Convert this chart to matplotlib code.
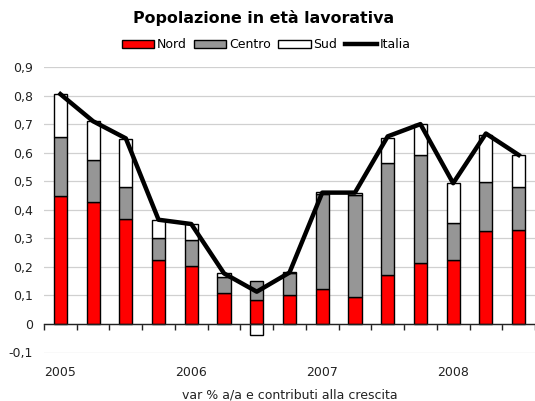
import matplotlib
matplotlib.use("Agg")
import matplotlib.pyplot as plt
import numpy as np

quarters = ["2005Q1", "2005Q2", "2005Q3", "2005Q4", "2006Q1", "2006Q2", "2006Q3", "2006Q4",
            "2007Q1", "2007Q2", "2007Q3", "2007Q4", "2008Q1", "2008Q2", "2008Q3"]
year_labels = ["2005", "2006", "2007", "2008"]
year_pos = [0, 4, 8, 12]
nord = [0.447, 0.426, 0.367, 0.223, 0.204, 0.107, 0.083, 0.100, 0.122, 0.095, 0.173, 0.214, 0.223, 0.327, 0.330]
centro = [0.209, 0.148, 0.112, 0.077, 0.091, 0.056, 0.068, 0.080, 0.334, 0.357, 0.392, 0.379, 0.132, 0.171, 0.151]
sud = [0.150, 0.136, 0.169, 0.065, 0.056, 0.015, -0.039, 0.003, 0.005, 0.006, 0.086, 0.107, 0.138, 0.165, 0.112]
italia = [0.805, 0.710, 0.650, 0.365, 0.350, 0.177, 0.113, 0.180, 0.460, 0.460, 0.657, 0.700, 0.493, 0.667, 0.592]

plt.rcParams['font.family'] = ['DejaVu Sans']

fig = plt.figure(figsize=(5.35, 4.01), dpi=100)
ax = fig.add_axes([44/535, 1-352.5/401, 491/535, (352.5-67)/401])

x = np.arange(len(quarters))
nord_a = np.array(nord)
centro_a = np.array(centro)
sud_a = np.array(sud)
pos_base = nord_a + centro_a
sud_bottom = np.where(sud_a >= 0, pos_base, 0.0)

w = 0.4
b1 = ax.bar(x, nord_a, w, color="#FF0000", edgecolor="black", linewidth=1, label="Nord", zorder=3)
b2 = ax.bar(x, centro_a, w, bottom=nord_a, color="#969696", edgecolor="black", linewidth=1, label="Centro", zorder=3)
b3 = ax.bar(x, sud_a, w, bottom=sud_bottom, color="white", edgecolor="black", linewidth=1, label="Sud", zorder=3)
l1, = ax.plot(x, italia, color="black", linewidth=3.2, solid_joinstyle="round", label="Italia", zorder=4)

ax.set_xlim(-0.5, len(quarters) - 0.5)
ax.set_ylim(-0.1, 0.9)
yt = np.round(np.arange(-0.1, 0.91, 0.1), 1)
ax.set_yticks(yt)
ax.set_yticklabels(["0" if abs(v) < 1e-9 else f"{v:.1f}".replace(".", ",") for v in yt], fontsize=9)
ax.tick_params(axis="y", length=0, pad=8, colors="#222222")
ax.grid(axis="y", color="#d0d0d0", linewidth=0.9, zorder=0)
ax.set_axisbelow(True)

for s in ["left", "right", "top"]:
    ax.spines[s].set_visible(False)
ax.spines["bottom"].set_position(("data", 0))
ax.spines["bottom"].set_color("#222222")
ax.spines["bottom"].set_linewidth(1)
ax.spines["bottom"].set_zorder(5)

ax.set_xticks(np.arange(-0.5, len(quarters), 1.0))
ax.set_xticklabels([])
ax.tick_params(axis="x", which="major", length=4, direction="out", colors="#222222", width=1)
ax.set_xticks(year_pos, minor=True)
ax.set_xticklabels(year_labels, minor=True, fontsize=9)
ax.tick_params(axis="x", which="minor", length=0, pad=30, colors="#222222")

ax.set_xlabel("var % a/a e contributi alla crescita", fontsize=9, labelpad=7, color="#222222")

fig.text(0.493, 1-18/401, "Popolazione in età lavorativa", ha="center", va="center",
         fontsize=11.4, fontweight="bold")
leg = fig.legend(handles=[b1, b2, b3, l1], labels=["Nord", "Centro", "Sud", "Italia"],
                 loc="center", bbox_to_anchor=(266/535, 1-45/401), ncol=4, frameon=False,
                 fontsize=9, handlelength=2.6, handleheight=0.6, handletextpad=0.2,
                 columnspacing=0.6, borderpad=0)

fig.savefig("out.png", dpi=100)
